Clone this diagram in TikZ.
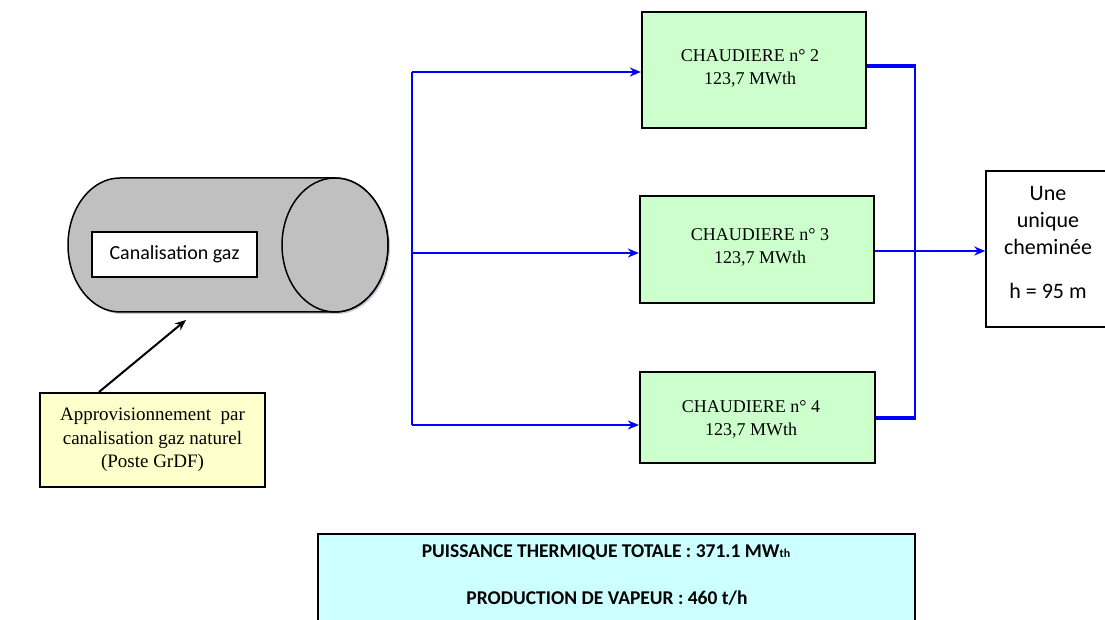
\documentclass[tikz,border=0pt]{standalone}
\usepackage{fontspec}
\setmainfont{Liberation Serif}
\newfontfamily\carl{Carlito}
\usetikzlibrary{arrows.meta}
\definecolor{cylgray}{RGB}{192,192,192}
\definecolor{boxgreen}{RGB}{204,255,204}
\definecolor{boxyellow}{RGB}{255,255,204}
\definecolor{boxcyan}{RGB}{204,255,255}
\definecolor{flowblue}{RGB}{0,0,255}
\definecolor{shadowc}{RGB}{170,160,190}
\begin{document}
\begin{tikzpicture}[x=1pt,y=1pt,
  chbox/.style={draw=black,line width=2.2pt,fill=boxgreen},
  chtext/.style={font=\fontsize{18}{23}\selectfont,align=center},
  flow/.style={draw=flowblue,line width=2.5pt,-{Stealth[length=11pt,width=9pt]}},
  flowthick/.style={draw=flowblue,line width=4pt},
  flowline/.style={draw=flowblue,line width=2.5pt}]
\useasboundingbox (0,0) rectangle (1105,620);
% cylinder shadow
\fill[shadowc,opacity=0.6] (122,440) -- (337,440) arc[start angle=90,end angle=-90,x radius=53,y radius=67] -- (122,306) arc[start angle=270,end angle=90,x radius=52,y radius=67] -- cycle;
% cylinder
\draw[line width=1.5pt,fill=cylgray] (120,442) -- (335,442) arc[start angle=90,end angle=-90,x radius=53,y radius=67] -- (120,308) arc[start angle=270,end angle=90,x radius=52,y radius=67] -- cycle;
\draw[line width=1.5pt,fill=cylgray] (335,375) ellipse[x radius=53,y radius=67];
\node[draw=black,line width=1.5pt,fill=white,minimum width=165pt,minimum height=45pt,inner sep=0pt,font=\carl\fontsize{20}{24}\selectfont] (can) at (174.5,365.5) {Canalisation gaz};
% supply box
\node[draw=black,line width=2pt,fill=boxyellow,minimum width=225pt,minimum height=94pt,inner sep=0pt,font=\fontsize{19}{23.5}\selectfont,align=center] (app) at (152.5,180) {Approvisionnement\enspace par\\canalisation gaz naturel\\(Poste GrDF)};
\coordinate (cylbot) at (186,300);
\draw[line width=2pt,-{Stealth[length=11pt,width=9pt]}] (app.north west) ++(60,0) coordinate (appa) (appa) -- (cylbot);
% boilers
\node[chbox,minimum width=224pt,minimum height=116pt,inner sep=0pt] (c2) at (754,550) {};
\node[chtext] (t2) at (750,551.5) {CHAUDIERE n° 2\\123,7 MWth};
\node[chbox,minimum width=234pt,minimum height=107pt,inner sep=0pt] (c3) at (757,370.5) {};
\node[chtext] (t3) at (760,373) {CHAUDIERE n° 3\\123,7 MWth};
\node[chbox,minimum width=235pt,minimum height=91pt,inner sep=0pt] (c4) at (757.5,202.5) {};
\node[chtext] (t4) at (751,200.5) {CHAUDIERE n° 4\\123,7 MWth};
% chimney
\node[draw=black,line width=1.5pt,fill=white,minimum width=120pt,minimum height=156pt,inner sep=0pt] (chim) at (1046,371) {};
\node[font=\carl\fontsize{22}{27}\selectfont,align=center] (chimt) at (1048,377) {Une\\unique\\cheminée\\[17pt]h = 95 m};
% summary
\node[draw=black,line width=2pt,fill=boxcyan,minimum width=597pt,minimum height=100pt,inner sep=0pt,anchor=north] (sum) at (616.5,87) {};
\node[font=\carl\bfseries\fontsize{19.5}{23}\selectfont] (s1) at (606,68) {PUISSANCE THERMIQUE TOTALE : 371.1 MW{\fontsize{12}{14}\selectfont th}};
\node[font=\carl\bfseries\fontsize{19.5}{23}\selectfont] (s2) at (607,22) {PRODUCTION DE VAPEUR : 460 t/h};
% gas distribution
\coordinate (dtop) at (412,548);
\coordinate (dmid) at (412,367);
\coordinate (dbot) at (412,195);
\draw[flowblue,line width=2.5pt] (dtop) -- (dbot);
\draw[flow] (dtop) -- (c2.west |- dtop);
\draw[flow] (dmid) -- (c3.west |- dmid);
\draw[flow] (dbot) -- (c4.west |- dbot);
% flue collection
\coordinate (rtop) at (915,554);
\coordinate (rbot) at (915,202);
\draw[flowthick] (c2.east |- rtop) -- ([xshift=1pt]rtop);
\draw[flowthick] (c4.east |- rbot) -- ([xshift=1pt]rbot);
\draw[flowline] (rtop) -- (rbot);
\draw[flow] (c3.east |- 0,369) -- (chim.west |- 0,369);
\end{tikzpicture}
\end{document}
